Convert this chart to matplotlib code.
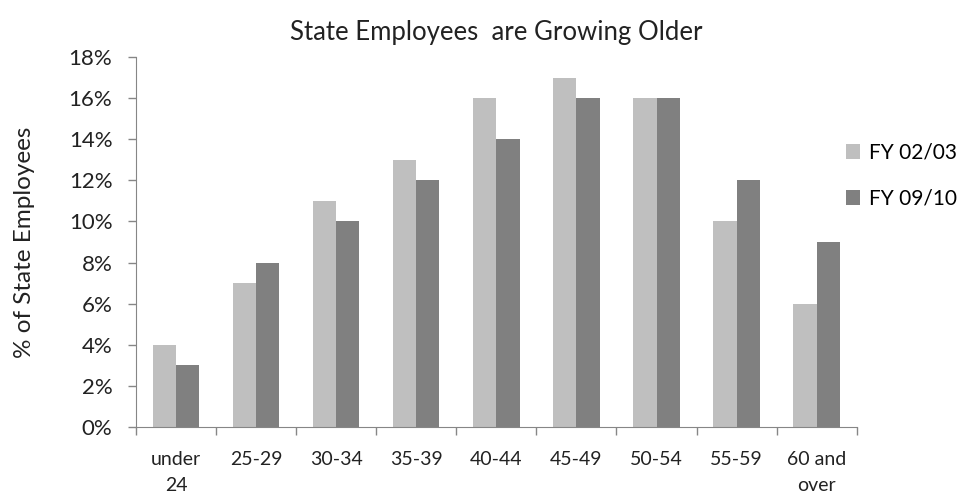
import matplotlib.pyplot as plt
import numpy as np
from matplotlib.ticker import FuncFormatter, FixedLocator

categories = ['under\n24', '25-29', '30-34', '35-39', '40-44', '45-49', '50-54', '55-59', '60 and\nover']
fy0203 = [4, 7, 11, 13, 16, 17, 16, 10, 6]
fy0910 = [3, 8, 10, 12, 14, 16, 16, 12, 9]

plt.rcParams['font.family'] = ['Lato', 'DejaVu Sans']

fig = plt.figure(figsize=(9.67, 4.97), dpi=100)
ax = fig.add_axes([0.1406, 0.1408, 0.7454, 0.7445])

x = np.arange(len(categories))
w = 0.29
ax.bar(x - w / 2, np.array(fy0203) / 100, w, color='#BFBFBF', label='FY 02/03')
ax.bar(x + w / 2, np.array(fy0910) / 100, w, color='#808080', label='FY 09/10')

ax.set_xlim(-0.5, len(categories) - 0.5)
ax.set_ylim(0, 0.18)
ax.set_yticks(np.arange(0, 0.181, 0.02))
ax.yaxis.set_major_formatter(FuncFormatter(lambda v, p: '%d%%' % round(v * 100)))
ax.set_xticks(x)
ax.set_xticklabels(categories, linespacing=1.65)
ax.xaxis.set_minor_locator(FixedLocator(np.arange(-0.5, len(categories), 1.0)))
ax.tick_params(axis='x', which='major', length=0, pad=17, labelsize=14, colors='#222222')
ax.tick_params(axis='x', which='minor', length=6, color='#868686', width=1)
ax.tick_params(axis='y', length=6, color='#868686', width=1, labelsize=16, labelcolor='#222222', pad=11)

for s in ['top', 'right']:
    ax.spines[s].set_visible(False)
for s in ['left', 'bottom']:
    ax.spines[s].set_color('#868686')

ax.set_ylabel('% of State Employees', fontsize=17.5, color='#222222', labelpad=24)
ax.set_title('State Employees  are Growing Older', fontsize=18.5, color='#222222', pad=12)

ax.legend(loc='upper left', bbox_to_anchor=(0.985, 0.768), frameon=False, fontsize=15,
          borderpad=0, borderaxespad=0,
          handlelength=0.67, handleheight=0.67, labelspacing=1.25, handletextpad=0.45)

fig.savefig('out.png', dpi=100)
